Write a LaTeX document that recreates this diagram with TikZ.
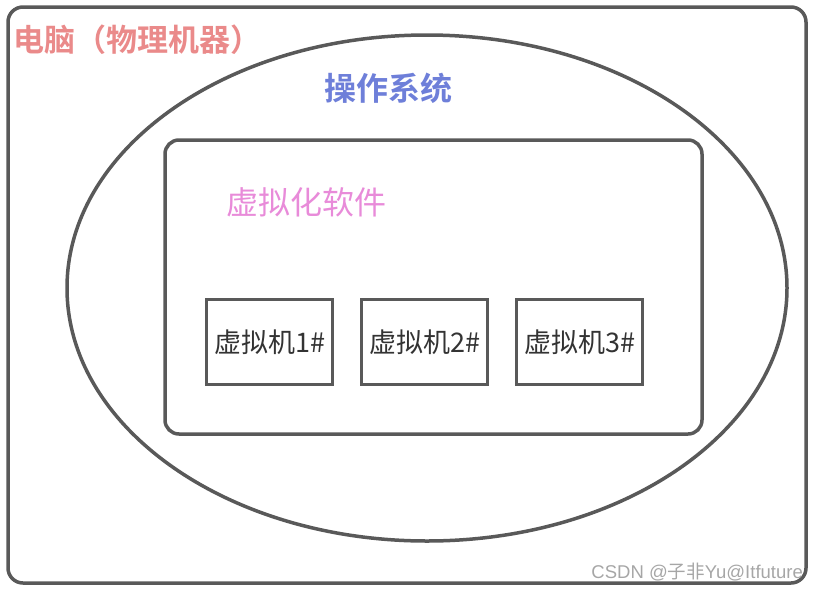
\documentclass[tikz,border=0pt]{standalone}
\usepackage{fontspec}
\usetikzlibrary{shapes.geometric}
\newfontfamily\cjk{Noto Sans CJK SC}
\newfontfamily\cjkb{Noto Sans CJK SC Bold}
\definecolor{strk}{HTML}{595959}
\definecolor{redt}{HTML}{EA8A8A}
\definecolor{bluet}{HTML}{6E7FD9}
\definecolor{pinkt}{HTML}{E88BD9}
\definecolor{txt}{HTML}{333333}
\begin{document}
\begin{tikzpicture}[x=1pt,y=-1pt,
  frame/.style={draw=strk,line width=3.5pt},
  vmbox/.style={frame,minimum width=126pt,minimum height=85pt,inner sep=0pt,font=\cjk\fontsize{27}{30}\selectfont,text=txt}]
\useasboundingbox (0,0) rectangle (817,590);
\draw[frame,rounded corners=15pt] (8,7) rectangle (806,583);
\node[frame,ellipse,minimum width=720pt,minimum height=506pt,inner sep=0pt] (os) at (427,288) {};
\draw[frame,rounded corners=14pt] (165,140) rectangle (702,434);
\node[anchor=west,inner sep=0pt,text=redt,font=\cjkb\fontsize{31}{34}\selectfont] (pc) at (13,40) {电脑（物理机器）};
\node[inner sep=0pt,text=bluet,font=\cjkb\fontsize{32}{35}\selectfont] (ost) at (388,88) {操作系统};
\node[inner sep=0pt,text=pinkt,font=\cjk\fontsize{32}{35}\selectfont] (vs) at (306,202) {虚拟化软件};
\node[vmbox] (v1) at (269.5,342) {虚拟机1\#};
\node[vmbox] (v2) at (424.5,342) {虚拟机2\#};
\node[vmbox] (v3) at (579.5,342) {虚拟机3\#};
\node[anchor=east,inner sep=0pt,text=gray!70,font=\fontspec{Liberation Sans}\fontsize{18.5}{20}\selectfont] (wm) at (803,572) {CSDN @{\cjk 子非}Yu@Itfuture};
\end{tikzpicture}
\end{document}
